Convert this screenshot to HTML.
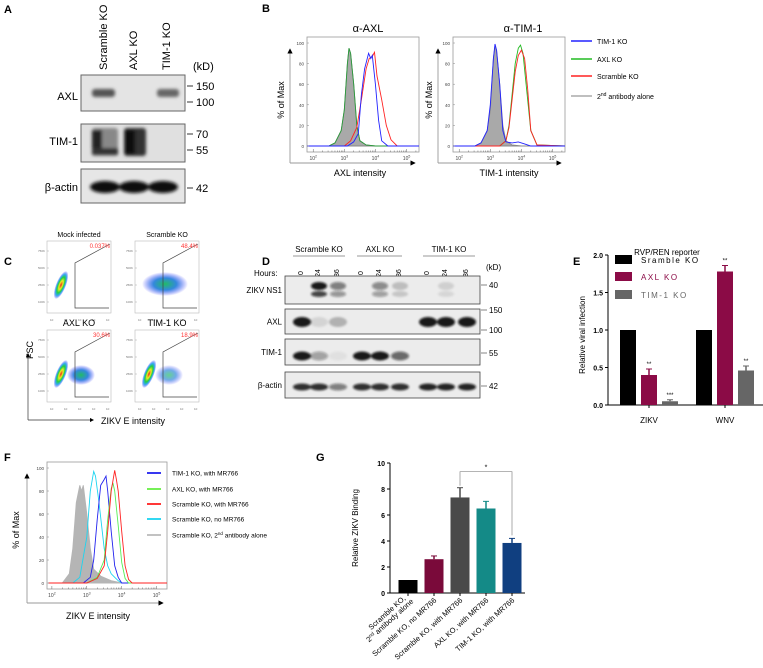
<!DOCTYPE html>
<html><head><meta charset="utf-8"><style>
html,body{margin:0;padding:0;background:#fff;}
svg{display:block;font-family:"Liberation Sans",Arial,sans-serif;}
</style></head><body>
<svg id="fig" width="763" height="668" viewBox="0 0 763 668">
<defs>
<filter id="blur" x="-50%" y="-50%" width="200%" height="200%"><feGaussianBlur stdDeviation="1.6"/></filter>
<filter id="blur2" x="-50%" y="-50%" width="200%" height="200%"><feGaussianBlur stdDeviation="1"/></filter>
<radialGradient id="dens"><stop offset="0" stop-color="#e22"/><stop offset="0.3" stop-color="#ee2"/><stop offset="0.55" stop-color="#2c4"/><stop offset="0.75" stop-color="#3ae"/><stop offset="1" stop-color="#33f" stop-opacity="0"/></radialGradient>
<radialGradient id="dens2"><stop offset="0" stop-color="#2b6"/><stop offset="0.5" stop-color="#38d"/><stop offset="1" stop-color="#44f" stop-opacity="0"/></radialGradient>
<marker id="arr" markerWidth="6" markerHeight="6" refX="3" refY="3" orient="auto"><path d="M0,0 L6,3 L0,6z" fill="#000"/></marker>
</defs>

<g font-weight="bold" font-size="11">
<text x="4" y="13">A</text><text x="262" y="12">B</text><text x="4" y="265">C</text><text x="262" y="265">D</text><text x="573" y="265">E</text><text x="4" y="461">F</text><text x="316" y="461">G</text>
</g>

<g font-size="11">
<text transform="translate(107,70) rotate(-90)">Scramble KO</text>
<text transform="translate(137,70) rotate(-90)">AXL KO</text>
<text transform="translate(170,70) rotate(-90)">TIM-1 KO</text>
<text x="193" y="70">(kD)</text>
<rect x="81" y="75" width="104" height="36" fill="#e4e4e4" stroke="#666"/>
<rect x="81" y="124" width="104" height="38" fill="#e0e0e0" stroke="#666"/>
<rect x="81" y="169" width="104" height="34" fill="#e6e6e6" stroke="#666"/>
<g filter="url(#blur)" fill="#555">
<rect x="92" y="89" width="23" height="8" rx="3"/><rect x="157" y="89" width="22" height="8" rx="3" fill="#666"/>
<rect x="92" y="128" width="26" height="28" rx="3" fill="#888"/><rect x="92" y="130" width="10" height="24" fill="#222"/><rect x="92" y="148" width="26" height="7" fill="#333"/>
<rect x="124" y="128" width="22" height="28" rx="3" fill="#333"/><rect x="125" y="130" width="10" height="24" fill="#111"/>
<ellipse cx="105" cy="187" rx="15" ry="6" fill="#111"/><ellipse cx="134" cy="187" rx="15" ry="6" fill="#111"/><ellipse cx="163" cy="187" rx="15" ry="6" fill="#111"/>
</g>
<g text-anchor="end"><text x="78" y="100">AXL</text><text x="78" y="145">TIM-1</text><text x="78" y="191">β-actin</text></g>
<g stroke="#333"><line x1="187" y1="86" x2="193" y2="86"/><line x1="187" y1="102" x2="193" y2="102"/><line x1="187" y1="134" x2="193" y2="134"/><line x1="187" y1="150" x2="193" y2="150"/><line x1="187" y1="188" x2="193" y2="188"/></g>
<text x="196" y="90">150</text><text x="196" y="106">100</text><text x="196" y="138">70</text><text x="196" y="154">55</text><text x="196" y="192">42</text>
</g>

<g id="panelB"></g>
<g id="panelC"></g>
<g id="panelD"></g>
<g id="panelE"></g>
<g id="panelF"></g>
<g id="panelG"></g>
</svg>
<script>
const bAxlGreyX=[1.8,2.5,2.7,2.9,3.0,3.1,3.15,3.2,3.3,3.4,3.5,3.7,4.0,5.4];
const bAxlGreyY=[0,0,3,15,35,80,95,90,60,20,5,1,0,0];
const bAxlBlueX=[1.8,3.1,3.3,3.45,3.55,3.65,3.78,3.85,3.9,4.0,4.1,4.2,4.4,5.4];
const bAxlBlueY=[0,0,4,12,50,75,90,85,88,60,25,5,0,0];
const bAxlRedX=[1.8,3.0,3.2,3.4,3.55,3.7,3.8,3.9,3.97,4.05,4.2,4.35,4.5,4.7,5.4];
const bAxlRedY=[0,0,5,18,45,75,85,87,91,68,45,20,6,0,0];
const bTimGreyX=[1.8,2.5,2.7,2.9,3.0,3.1,3.15,3.2,3.3,3.4,3.5,3.7,4.0,5.4];
const bTimGreyY=[0,0,3,15,35,85,97,92,60,20,5,1,0,0];
const bTimBlueX=[1.8,2.5,2.7,2.9,3.0,3.1,3.15,3.2,3.3,3.4,3.5,3.7,3.9,4.1,4.3,5.4];
const bTimBlueY=[0,0,3,15,40,85,99,93,60,15,4,3,4,2,0,0];
const bTimGreenX=[1.8,3.3,3.5,3.6,3.7,3.8,3.9,3.97,4.05,4.15,4.3,4.5,5.4];
const bTimGreenY=[0,0,5,20,50,80,95,98,90,60,15,1,0];
const bTimRedX=[1.8,3.3,3.5,3.6,3.7,3.8,3.9,4.0,4.1,4.2,4.3,4.5,5.4];
const bTimRedY=[0,0,5,18,45,72,88,93,85,55,15,1,0];

const fGreyX=[1.9,2.3,2.5,2.6,2.7,2.8,2.85,2.9,3.0,3.1,3.2,3.4,3.7,4.0,5.3];
const fGreyY=[0,0,8,30,70,85,80,85,60,30,12,6,2,0,0];
const fCyanX=[1.9,2.6,2.8,3.0,3.1,3.2,3.25,3.35,3.5,3.6,3.7,3.8,3.9,4.0,5.3];
const fCyanY=[0,0,5,40,80,97,93,70,30,15,8,5,2,0,0];
const fBlueX=[1.9,2.9,3.1,3.2,3.3,3.4,3.5,3.55,3.6,3.7,3.8,3.9,4.0,5.3];
const fBlueY=[0,0,5,20,55,85,90,93,80,45,15,5,0,0];
const fGreenX=[1.9,3.0,3.3,3.5,3.6,3.7,3.75,3.8,3.9,4.0,4.1,4.2,5.3];
const fGreenY=[0,0,5,20,55,82,87,80,50,18,4,0,0];
const fRedX=[1.9,3.0,3.3,3.5,3.6,3.7,3.8,3.85,3.9,4.0,4.1,4.2,4.3,5.3];
const fRedY=[0,0,4,15,45,80,98,90,80,45,15,3,0,0];

const eCats=["ZIKV","WNV"];
const eScr=[1.0,1.0];
const eAxl=[0.4,1.78];
const eTim=[0.05,0.46];
const eAxlErr=[0.08,0.08];
const eTimErr=[0.02,0.06];
const eStars=[["","**","***"],["","**","**"]];
const eTicks=[0,0.5,1.0,1.5,2.0];
const eTickLabels=["0.0","0.5","1.0","1.5","2.0"];

const gCats=["Scramble KO,|2nd antibody alone","Scramble KO, no MR766","Scramble KO, with MR766","AXL KO, with MR766","TIM-1 KO, with MR766"];
const gVals=[1.0,2.6,7.35,6.5,3.85];
const gErr=[0,0.25,0.75,0.55,0.35];
const gTicks=[0,2,4,6,8,10];

const NS="http://www.w3.org/2000/svg";
function mk(parent,tag,attrs,text){const e=document.createElementNS(NS,tag);for(const k in attrs)e.setAttribute(k,attrs[k]);if(text!==undefined)e.textContent=text;parent.appendChild(e);return e;}

function flowPlot(g,ox,oy,w,h,xs,ys,lx0,lx1,series,opt){
  const sx=v=>ox+(v-lx0)/(lx1-lx0)*w;
  const sy=v=>oy+h-6-v/100*(h-12);
  mk(g,'rect',{x:ox,y:oy,width:w,height:h,fill:'none',stroke:'#999','stroke-width':0.8});
  series.forEach(s=>{
    let d='M'+s.x.map((v,i)=>sx(v).toFixed(1)+','+sy(s.y[i]).toFixed(1)).join(' L');
    const p=mk(g,'path',{d:s.fill?d+' Z':d,fill:s.fill||'none',stroke:s.stroke||'none','stroke-width':0.9});
    
    
  });
  [0,20,40,60,80,100].forEach(t=>{mk(g,'text',{x:ox-3,y:sy(t)+2,'font-size':4.5,'text-anchor':'end',fill:'#444'},String(t));mk(g,'line',{x1:ox,x2:ox+2,y1:sy(t),y2:sy(t),stroke:'#888','stroke-width':0.5});});
  [2,3,4,5].forEach(t=>{const x=sx(t);const tx=mk(g,'text',{x:x,y:oy+h+8,'font-size':5,'text-anchor':'middle',fill:'#444'},'10');mk(tx,'tspan',{dy:-2.5,'font-size':3.5},String(t));
    for(let k=1;k<10;k++){const xx=sx(t+Math.log10(k));if(xx<ox+w&&xx>ox)mk(g,'line',{x1:xx,x2:xx,y1:oy+h,y2:oy+h-(k==1?3:1.5),stroke:'#666','stroke-width':0.5});}
  });
  mk(g,'line',{x1:opt.ax,y1:opt.ay,x2:opt.ax,y2:oy+14,stroke:'#999','stroke-width':0.9,'marker-end':'url(#arr)'});
  mk(g,'line',{x1:opt.ax,y1:opt.ay,x2:ox+w-6,y2:opt.ay,stroke:'#999','stroke-width':0.9,'marker-end':'url(#arr)'});
}

(function(){
  const g=document.getElementById('panelB');
  mk(g,'text',{x:368,y:32,'font-size':11,'text-anchor':'middle'},'α-AXL');
  mk(g,'text',{x:523,y:32,'font-size':11,'text-anchor':'middle'},'α-TIM-1');
  const p1=mk(g,'g',{});
  flowPlot(p1,307,37,112,115,null,null,1.8,5.4,[
    {x:bAxlGreyX,y:bAxlGreyY,fill:'#a9a9a9',stroke:'#888',name:'axl-secondary-ab-fill'},
    {x:bAxlGreyX,y:bAxlGreyY,stroke:'#2a9a3a',name:'axl-axl-ko-line'},
    {x:bAxlRedX,y:bAxlRedY,stroke:'#f22',name:'axl-scramble-ko-line'},
    {x:bAxlBlueX,y:bAxlBlueY,stroke:'#22f',name:'axl-tim1-ko-line'}],{ax:290,ay:163});
  const p2=mk(g,'g',{});
  flowPlot(p2,453,37,112,115,null,null,1.8,5.4,[
    {x:bTimGreyX,y:bTimGreyY,fill:'#a9a9a9',stroke:'#888',name:'tim-secondary-ab-fill'},
    {x:bTimGreenX,y:bTimGreenY,stroke:'#2b2',name:'tim-axl-ko-line'},
    {x:bTimRedX,y:bTimRedY,stroke:'#f22',name:'tim-scramble-ko-line'},
    {x:bTimBlueX,y:bTimBlueY,stroke:'#22f',name:'tim-tim1-ko-line'}],{ax:438,ay:163});
  mk(g,'text',{transform:'translate(284,100) rotate(-90)','font-size':9,'text-anchor':'middle'},'% of Max');
  mk(g,'text',{transform:'translate(432,100) rotate(-90)','font-size':9,'text-anchor':'middle'},'% of Max');
  mk(g,'text',{x:360,y:176,'font-size':9,'text-anchor':'middle'},'AXL intensity');
  mk(g,'text',{x:509,y:176,'font-size':9,'text-anchor':'middle'},'TIM-1 intensity');
  const leg=[['#22f','TIM-1 KO',41],['#2b2','AXL KO',59],['#f22','Scramble KO',76],['#aaa','',96]];
  leg.forEach(l=>{const e=mk(g,'g',{});
    mk(e,'line',{x1:571,x2:592,y1:l[2],y2:l[2],stroke:l[0],'stroke-width':1.5});
    if(l[1])mk(e,'text',{x:597,y:l[2]+3,'font-size':7},l[1]);
    else{const t=mk(e,'text',{x:597,y:l[2]+3,'font-size':7},'2');mk(t,'tspan',{dy:-3,'font-size':5},'nd');mk(t,'tspan',{dy:3},' antibody alone');}
  });
})();

(function(){
  const g=document.getElementById('panelC');
  const plots=[[47,241,'Mock infected','0.037%',0,237],[135,241,'Scramble KO','48.4%',1,237],[47,330,'AXL KO','30.6%',2,326],[135,330,'TIM-1 KO','18.9%',3,326]];
  plots.forEach(p=>{
    const [x,y,title,pct,k,ty]=p;const e=mk(g,'g',{});
    
    mk(e,'text',{x:x+32,y:ty,'font-size':k<2?7:9,'text-anchor':'middle'},title);
    mk(e,'rect',{x:x,y:y,width:64,height:72,fill:'#fff',stroke:'#bbb','stroke-width':0.6});
    for(let i=0;i<4;i++){mk(e,'line',{x1:x,x2:x+2,y1:y+10+i*17,y2:y+10+i*17,stroke:'#999','stroke-width':0.4});mk(e,'text',{x:x-2,y:y+11+i*17,'font-size':3,'text-anchor':'end',fill:'#777'},['750K','500K','250K','100K'][i]);}
    for(let i=0;i<5;i++)mk(e,'text',{x:x+3+i*14,y:y+80,'font-size':3,fill:'#777'},'10');
    if(k==1){mk(e,'ellipse',{cx:x+30,cy:y+43,rx:23,ry:12,fill:'url(#dens2)'});}
    else{
      if(k>=2)mk(e,'ellipse',{cx:x+34,cy:y+45,rx:14,ry:10,fill:'url(#dens2)',opacity:k==2?1:0.7});
      mk(e,'ellipse',{cx:x+14,cy:y+44,rx:5,ry:15,fill:'url(#dens)',transform:`rotate(22 ${x+14} ${y+44})`});
    }
    mk(e,'polyline',{points:`${x+62},${y+67} ${x+28},${y+67} ${x+28},${y+22} ${x+63},${y+3}`,fill:'none',stroke:'#444','stroke-width':0.7});
    mk(e,'text',{x:x+63,y:y+7,'font-size':6,'text-anchor':'end',fill:'#f33'},pct);
  });
  mk(g,'text',{transform:'translate(33,350) rotate(-90)','font-size':9,'text-anchor':'middle'},'FSC');
  mk(g,'line',{x1:28,y1:420,x2:28,y2:355,stroke:'#333','stroke-width':0.7,'marker-end':'url(#arr)'});
  mk(g,'line',{x1:28,y1:420,x2:92,y2:420,stroke:'#333','stroke-width':0.7,'marker-end':'url(#arr)'});
  mk(g,'text',{x:101,y:424,'font-size':9},'ZIKV E intensity');
})();

(function(){
  const g=document.getElementById('panelD');
  const groups=[['Scramble KO',319,293,345],['AXL KO',380,357,402],['TIM-1 KO',449,423,475]];
  groups.forEach(gr=>{mk(g,'text',{x:gr[1],y:252,'font-size':8,'text-anchor':'middle'},gr[0]);mk(g,'line',{x1:gr[2],x2:gr[3],y1:256,y2:256,stroke:'#333','stroke-width':0.6});});
  mk(g,'text',{x:254,y:276,'font-size':8},'Hours:');
  const lanes=[300,317,336,360,378,398,426,444,465];const hrs=['0','24','36','0','24','36','0','24','36'];
  lanes.forEach((x,i)=>mk(g,'text',{transform:`translate(${x+3},${i%3==0?275:277}) rotate(-90)`,'font-size':7},hrs[i]));
  mk(g,'text',{x:486,y:270,'font-size':8},'(kD)');
  const boxes=[[276,28,'ZIKV NS1'],[309,25,'AXL'],[339,26,'TIM-1'],[372,26,'β-actin']];
  boxes.forEach(b=>{mk(g,'rect',{x:285,y:b[0],width:195,height:b[1],fill:'#ececec',stroke:'#444','stroke-width':0.8});mk(g,'text',{x:282,y:b[0]+b[1]/2+3,'font-size':8,'text-anchor':'end'},b[2]);});
  const bl=mk(g,'g',{filter:'url(#blur2)'});
  const ns1=[0,0.95,0.5,0,0.45,0.2,0,0.12,0];
  const axl=[0.95,0.1,0.25,0,0,0,0.95,0.95,0.95];
  const tim=[0.95,0.35,0.05,0.95,0.95,0.6,0,0,0];
  const act=[0.85,0.85,0.5,0.85,0.85,0.85,0.9,0.9,0.9];
  lanes.forEach((x,i)=>{
    if(ns1[i]){mk(bl,'ellipse',{cx:x+2,cy:286,rx:8,ry:4,fill:'#111',opacity:ns1[i]});mk(bl,'ellipse',{cx:x+2,cy:294,rx:8,ry:3,fill:'#111',opacity:ns1[i]*0.8});}
    if(axl[i])mk(bl,'ellipse',{cx:x+2,cy:322,rx:9,ry:5,fill:'#111',opacity:axl[i]});
    if(tim[i])mk(bl,'ellipse',{cx:x+2,cy:356,rx:9,ry:4.5,fill:'#111',opacity:tim[i]});
    mk(bl,'ellipse',{cx:x+2,cy:387,rx:9,ry:3.5,fill:'#111',opacity:act[i]});
  });
  const mks=[[285,'40'],[310,'150'],[330,'100'],[353,'55'],[386,'42']];
  mks.forEach(m=>{mk(g,'line',{x1:481,x2:487,y1:m[0],y2:m[0],stroke:'#333','stroke-width':0.6});mk(g,'text',{x:489,y:m[0]+3,'font-size':8},m[1]);});
})();

(function(){
  const g=document.getElementById('panelE');
  const y0=405,unit=75,ax=608;const sy=v=>y0-v*unit;
  const groupX=[620,696];const bw=16,step=21;
  mk(g,'text',{x:667,y:255,'font-size':8,'text-anchor':'middle'},'RVP/REN reporter');
  mk(g,'line',{x1:ax,x2:ax,y1:y0,y2:sy(2),stroke:'#000','stroke-width':1});
  mk(g,'line',{x1:ax,x2:763,y1:y0,y2:y0,stroke:'#000','stroke-width':1});
  eTicks.forEach((t,i)=>{mk(g,'line',{x1:ax-3,x2:ax,y1:sy(t),y2:sy(t),stroke:'#000'});mk(g,'text',{x:ax-5,y:sy(t)+3,'font-size':7,'font-weight':'bold','text-anchor':'end'},eTickLabels[i]);});
  mk(g,'text',{transform:'translate(585,335) rotate(-90)','font-size':8,'text-anchor':'middle'},'Relative viral infection');
  const series=[[eScr,null,'#000'],[eAxl,eAxlErr,'#8b0b46'],[eTim,eTimErr,'#666']];
  eCats.forEach((c,ci)=>{
    series.forEach((s,si)=>{
      const x=groupX[ci]+si*step;const v=s[0][ci];
      const r=mk(g,'rect',{x:x,y:sy(v),width:bw,height:v*unit,fill:s[2]});
      
      
      if(s[1]){const e=s[1][ci];mk(g,'line',{x1:x+bw/2,x2:x+bw/2,y1:sy(v),y2:sy(v+e),stroke:s[2],'stroke-width':1.5});mk(g,'line',{x1:x+bw/2-3,x2:x+bw/2+3,y1:sy(v+e),y2:sy(v+e),stroke:s[2],'stroke-width':1});}
      if(eStars[ci][si])mk(g,'text',{x:x+bw/2,y:sy(v+(s[1]?s[1][ci]:0))-3,'font-size':6,'text-anchor':'middle'},eStars[ci][si]);
    });
    mk(g,'line',{x1:groupX[ci]+step+bw/2,x2:groupX[ci]+step+bw/2,y1:y0,y2:y0+3,stroke:'#000'});
    mk(g,'text',{x:groupX[ci]+step+bw/2,y:y0+18,'font-size':8,'text-anchor':'middle'},c);
  });
  const leg=[['#000','Sramble KO',260],['#8b0b46','AXL KO',277],['#666','TIM-1 KO',295]];
  leg.forEach(l=>{const e=mk(g,'g',{});
    mk(e,'rect',{x:615,y:l[2]-5,width:17,height:9,fill:l[0]});
    mk(e,'text',{x:641,y:l[2]+3,'font-size':8,'letter-spacing':1.5,fill:l[0]},l[1]);});
})();

(function(){
  const g=document.getElementById('panelF');
  const p=mk(g,'g',{});
  flowPlot(p,47,462,120,127,null,null,1.86,5.3,[
    {x:fGreyX,y:fGreyY,fill:'#b5b5b5',stroke:'#b5b5b5',name:'secondary-ab-fill'},
    {x:fCyanX,y:fCyanY,stroke:'#1cd4f0',name:'scramble-no-mr766-line'},
    {x:fBlueX,y:fBlueY,stroke:'#22e',name:'tim1-ko-mr766-line'},
    {x:fGreenX,y:fGreenY,stroke:'#5e5',name:'axl-ko-mr766-line'},
    {x:fRedX,y:fRedY,stroke:'#f22',name:'scramble-mr766-line'}],{ax:27,ay:603});
  mk(g,'text',{transform:'translate(19,530) rotate(-90)','font-size':9,'text-anchor':'middle'},'% of Max');
  mk(g,'text',{x:98,y:619,'font-size':9,'text-anchor':'middle'},'ZIKV E intensity');
  const leg=[['#22e','TIM-1 KO, with MR766',473],['#6e4','AXL KO, with MR766',489],['#f22','Scramble KO, with MR766',504],['#1cd4f0','Scramble KO, no MR766',519],['#bbb','',535]];
  leg.forEach(l=>{const e=mk(g,'g',{});
    mk(e,'line',{x1:147,x2:161,y1:l[2],y2:l[2],stroke:l[0],'stroke-width':1.8});
    if(l[1])mk(e,'text',{x:172,y:l[2]+2.5,'font-size':6.5},l[1]);
    else{const t=mk(e,'text',{x:172,y:l[2]+2.5,'font-size':6.5},'Scramble KO, 2');mk(t,'tspan',{dy:-2.5,'font-size':4.5},'nd');mk(t,'tspan',{dy:2.5},' antibody alone');}
  });
})();

(function(){
  const g=document.getElementById('panelG');
  const y0=593,top=463,ax=390;const sy=v=>y0-v/10*(y0-top);
  const bx=i=>408+i*26;const bw=19;
  const cols=['#000','#7a0a3a','#4a4a4a','#148a87','#103f80'];
  mk(g,'line',{x1:ax,x2:ax,y1:y0,y2:top,stroke:'#000','stroke-width':1});
  mk(g,'line',{x1:ax,x2:525,y1:y0,y2:y0,stroke:'#000','stroke-width':1});
  gTicks.forEach(t=>{mk(g,'line',{x1:ax-3,x2:ax,y1:sy(t),y2:sy(t),stroke:'#000'});mk(g,'text',{x:ax-5,y:sy(t)+3,'font-size':7,'font-weight':'bold','text-anchor':'end'},String(t));});
  mk(g,'text',{transform:'translate(358,528) rotate(-90)','font-size':8,'text-anchor':'middle'},'Relative ZIKV Binding');
  gVals.forEach((v,i)=>{
    const x=bx(i);
    const r=mk(g,'rect',{x:x-bw/2,y:sy(v),width:bw,height:y0-sy(v),fill:cols[i]});
    
    
    if(gErr[i]){mk(g,'line',{x1:x,x2:x,y1:sy(v),y2:sy(v+gErr[i]),stroke:cols[i],'stroke-width':1.5});mk(g,'line',{x1:x-3,x2:x+3,y1:sy(v+gErr[i]),y2:sy(v+gErr[i]),stroke:cols[i],'stroke-width':1});}
    mk(g,'line',{x1:x,x2:x,y1:y0,y2:y0+3,stroke:'#000'});
    const parts=gCats[i].split('|');
    if(parts.length==1)mk(g,'text',{transform:`translate(${x+3},${y0+8}) rotate(-42)`,'font-size':7.5,'text-anchor':'end'},parts[0]);
    else{mk(g,'text',{transform:`translate(${x-2},${y0+6}) rotate(-42)`,'font-size':7.5,'text-anchor':'end'},parts[0]);
      const t=mk(g,'text',{transform:`translate(${x+6},${y0+9}) rotate(-42)`,'font-size':7.5,'text-anchor':'end'},'2');mk(t,'tspan',{dy:-2.5,'font-size':5},'nd');mk(t,'tspan',{dy:2.5},' antibody alone');}
  });
  const ya=sy(gVals[2]+gErr[2])-8, yb=sy(gVals[4]+gErr[4])-3;
  mk(g,'polyline',{points:`${bx(2)},${ya+6} ${bx(2)},${ya-8} ${bx(4)},${ya-8} ${bx(4)},${yb}`,fill:'none',stroke:'#888','stroke-width':0.7});
  mk(g,'text',{x:(bx(2)+bx(4))/2,y:ya-10,'font-size':7,'text-anchor':'middle'},'*');
})();
</script>
</body></html>
